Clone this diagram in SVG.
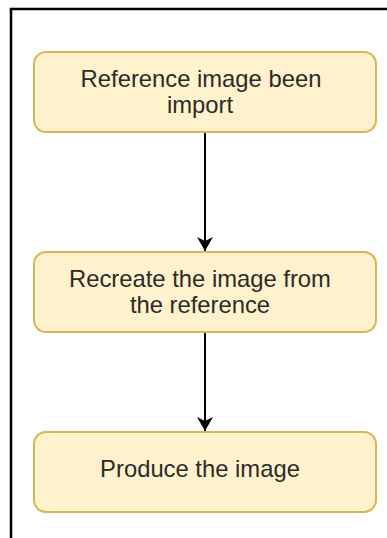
<svg xmlns="http://www.w3.org/2000/svg" width="387" height="538" viewBox="0 0 387 538">
  <defs>
    <style>
      .node rect { fill: #fff2cc; stroke: #d6b656; stroke-width: 2; }
      .node text { font-family: "Liberation Sans", Arial, sans-serif; font-size: 23.8px; fill: #2b2b2b; text-anchor: middle; }
      .edge { stroke: #000; stroke-width: 2; fill: none; }
    </style>
    <marker id="arrow" viewBox="0 0 14 16" refX="14" refY="8" markerWidth="14" markerHeight="16" markerUnits="userSpaceOnUse" orient="auto">
      <path d="M0,0 L14,8 L0,16 L4,8 Z" fill="#000"/>
    </marker>
  </defs>
  <rect width="387" height="538" fill="#fff"/>
  <path d="M11,538 V9 H387" fill="none" stroke="#000" stroke-width="2.5"/>
  <g id="connectors">
    <path class="edge" d="M205,133 V251" marker-end="url(#arrow)"/>
    <path class="edge" d="M205,333 V431" marker-end="url(#arrow)"/>
  </g>
  <g id="node1" class="node">
    <rect x="34" y="52" width="342" height="80" rx="12" ry="12"/>
    <text x="201" y="87">Reference image been</text>
    <text x="200" y="113">import</text>
  </g>
  <g id="node2" class="node">
    <rect x="34" y="252" width="342" height="80" rx="12" ry="12"/>
    <text x="200" y="287">Recreate the image from</text>
    <text x="200" y="313">the reference</text>
  </g>
  <g id="node3" class="node">
    <rect x="34" y="432" width="342" height="80" rx="12" ry="12"/>
    <text x="200" y="477">Produce the image</text>
  </g>
</svg>
